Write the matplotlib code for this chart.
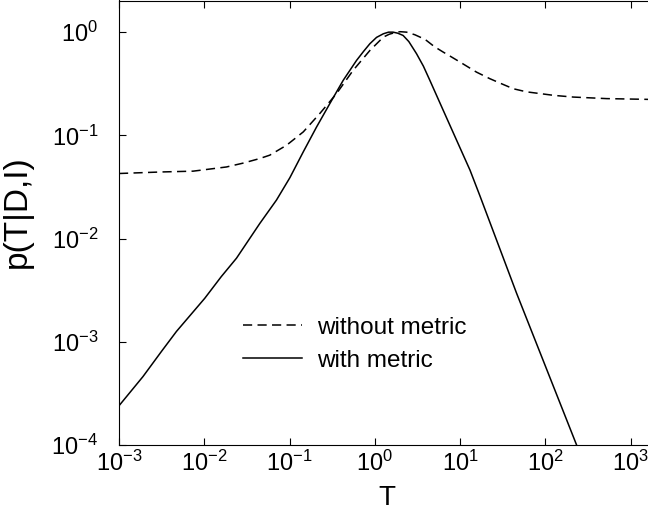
import matplotlib
matplotlib.use("Agg")
import matplotlib.pyplot as plt

plt.rcParams['font.family'] = ['Liberation Sans', 'DejaVu Sans']
plt.rcParams['mathtext.default'] = 'regular'

# curve: without metric (dashed)
T_without = [0.001, 0.00316, 0.00741, 0.0182, 0.0282, 0.0447, 0.0587, 0.0923,
             0.145, 0.227, 0.356, 0.558, 0.877, 1.26, 1.48, 1.80, 2.0, 2.36,
             2.95, 3.89, 5.0, 6.35, 7.94, 10.0, 15.6, 22.4, 31.6, 42.1, 60.3,
             86.7, 126, 213, 525, 1700]
p_without = [0.0427, 0.0442, 0.0450, 0.0494, 0.0537, 0.0596, 0.0643, 0.0802,
             0.108, 0.163, 0.254, 0.427, 0.665, 0.895, 0.955, 1.0, 1.01, 1.0,
             0.944, 0.851, 0.724, 0.641, 0.575, 0.513, 0.410, 0.354, 0.313,
             0.283, 0.264, 0.254, 0.244, 0.235, 0.227, 0.223]

# with metric (solid)
T_with = [0.001, 0.00191, 0.00316, 0.00472, 0.01014, 0.0158, 0.0239, 0.0448,
          0.0703, 0.101, 0.145, 0.207, 0.297, 0.426, 0.611, 0.741, 0.877, 1.05,
          1.26, 1.45, 1.64, 1.86, 2.15, 2.51, 3.09, 3.72, 4.43, 6.35, 9.12,
          13.1, 17.1, 46.1, 233, 316]
p_with = [2.40e-4, 4.60e-4, 8.1e-4, 1.26e-3, 2.64e-3, 4.27e-3, 6.46e-3, 0.0140,
          0.0236, 0.0389, 0.0692, 0.120, 0.203, 0.341, 0.532, 0.653, 0.773, 0.89,
          0.964, 1.0, 1.0, 0.977, 0.929, 0.81, 0.618, 0.468, 0.341, 0.175, 0.0897,
          0.0460, 0.0260, 2.95e-3, 1.0e-4, 5.25e-5]

fig = plt.figure(figsize=(6.48, 5.14), dpi=100)
ax = fig.add_axes([119 / 648, 69 / 514, 529 / 648, 444.5 / 514])

ax.plot(T_without, p_without, color='black', lw=1.1, dashes=(6, 3.5),
        label='without metric')
ax.plot(T_with, p_with, color='black', lw=1.1, label='with metric')

ax.set_xscale('log')
ax.set_yscale('log')
ax.set_xlim(1e-3, 1603)
ax.set_ylim(1e-4, 2.026)

ax.set_xticks([1e-3, 1e-2, 1e-1, 1e0, 1e1, 1e2, 1e3])
ax.set_yticks([1e-4, 1e-3, 1e-2, 1e-1, 1e0])
ax.minorticks_off()
ax.tick_params(direction='in', length=5, width=0.8, labelsize=17,
               top=True, right=False)
ax.tick_params(axis='y', pad=15)
ax.tick_params(axis='x', pad=4)
ax.spines['right'].set_visible(False)
for s in ['left', 'bottom', 'top']:
    ax.spines[s].set_linewidth(0.8)

ax.set_xlabel('T', fontsize=20)
ax.set_ylabel('p(T|D,I)', fontsize=24)
ax.xaxis.set_label_coords(0.5066, -0.09)
ax.yaxis.set_label_coords(-0.1626, 0.525)

ax.legend(loc='upper left', bbox_to_anchor=(0.2344, 0.288), frameon=False,
          fontsize=17.5, handlelength=2.43, handletextpad=0.62,
          labelspacing=0.45, borderpad=0, borderaxespad=0)

fig.savefig('out.png', dpi=100)
